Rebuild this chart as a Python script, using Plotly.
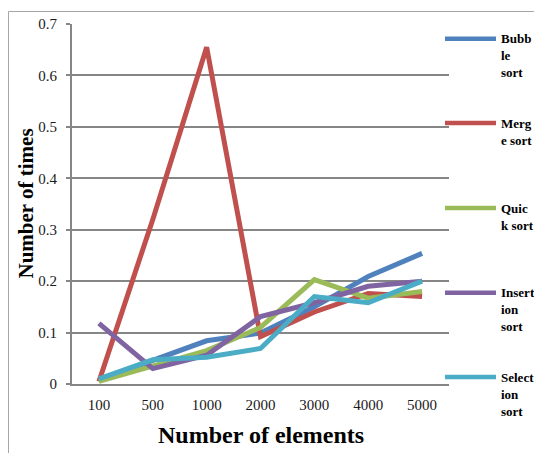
import plotly.graph_objects as go

categories = ["100", "500", "1000", "2000", "3000", "4000", "5000"]
bubble = [0.008, 0.045, 0.084, 0.099, 0.150, 0.209, 0.254]
merge = [0.005, 0.320, 0.655, 0.092, 0.140, 0.176, 0.170]
quick = [0.005, 0.035, 0.065, 0.110, 0.203, 0.167, 0.180]
insertion = [0.118, 0.030, 0.056, 0.131, 0.158, 0.190, 0.200]
selection = [0.010, 0.047, 0.052, 0.069, 0.170, 0.158, 0.200]

series_names = ["Bubb<br>le<br>sort", "Merg<br>e sort", "Quic<br>k sort", "Insert<br>ion<br>sort", "Select<br>ion<br>sort"]
series_values = [bubble, merge, quick, insertion, selection]
colors = ["#4F81BD", "#C0504D", "#9BBB59", "#8064A2", "#4BACC6"]
y_ticks = [0, 0.1, 0.2, 0.3, 0.4, 0.5, 0.6, 0.7]
y_tick_labels = ["0", "0.1", "0.2", "0.3", "0.4", "0.5", "0.6", "0.7"]

SERIF = "Liberation Serif"

fig = go.Figure()
for name, vals, col in zip(series_names, series_values, colors):
    fig.add_trace(go.Scatter(x=categories, y=vals, mode="lines", name=name,
                             line=dict(color=col, width=5), showlegend=False,
                             hoverinfo="skip"))

# plot area geometry (pixels) for legend placement
W, H = 534, 453
L, R, T, B = 72, 85, 24, 69
pw = W - L - R
ph = H - T - B

def px_x(x):
    return (x - L) / pw

def px_y(y):
    return (H - B - y) / ph

# outer border
fig.add_shape(type="rect", xref="paper", yref="paper",
              x0=px_x(8.5), x1=px_x(560), y0=px_y(480), y1=px_y(11.5),
              line=dict(color="#A6A6A6", width=1), fillcolor="rgba(0,0,0,0)", layer="below")

legend_y = [38.7, 123, 208, 292.7, 377]
for name, col, ly in zip(series_names, colors, legend_y):
    fig.add_shape(type="line", xref="paper", yref="paper",
                  x0=px_x(445), x1=px_x(496), y0=px_y(ly), y1=px_y(ly),
                  line=dict(color=col, width=4.5))
    fig.add_annotation(xref="paper", yref="paper", x=px_x(499), y=px_y(ly),
                       xanchor="left", yanchor="top", yshift=9.5, showarrow=False,
                       text="<b>" + name + "</b>", align="left",
                       font=dict(family=SERIF, size=13, color="#000000"))

fig.add_annotation(xref="paper", yref="paper", x=px_x(261), y=px_y(435),
                   xanchor="center", yanchor="middle", showarrow=False,
                   text="<b>Number of elements</b>",
                   font=dict(family=SERIF, size=24, color="#000000"))
fig.add_annotation(xref="paper", yref="paper", x=px_x(25.5), y=px_y(204),
                   xanchor="center", yanchor="middle", showarrow=False, textangle=-90,
                   text="<b>Number of times</b>",
                   font=dict(family=SERIF, size=21, color="#000000"))

fig.update_layout(
    width=W, height=H,
    margin=dict(l=L, r=R, t=T, b=B, pad=0),
    paper_bgcolor="white", plot_bgcolor="white",
    xaxis=dict(type="category", categoryorder="array", categoryarray=categories,
               range=[-0.5, 6.5], showgrid=False, showline=True, linecolor="#868686",
               linewidth=2, ticks="", ticklabelstandoff=6,
               tickfont=dict(family=SERIF, size=15, color="#1a1a1a")),
    yaxis=dict(range=[0, 0.7], tickvals=y_ticks, ticktext=y_tick_labels,
               showgrid=True, gridcolor="#868686", gridwidth=2,
               showline=True, linecolor="#868686", linewidth=2,
               ticks="outside", ticklen=4, tickcolor="#868686", tickwidth=2,
               ticklabelstandoff=6, zeroline=False,
               tickfont=dict(family=SERIF, size=15, color="#1a1a1a")),
)

fig.write_html("out.html", config={"displayModeBar": False, "staticPlot": True},
               post_script="document.body.style.margin='0';document.body.style.overflow='hidden';")
